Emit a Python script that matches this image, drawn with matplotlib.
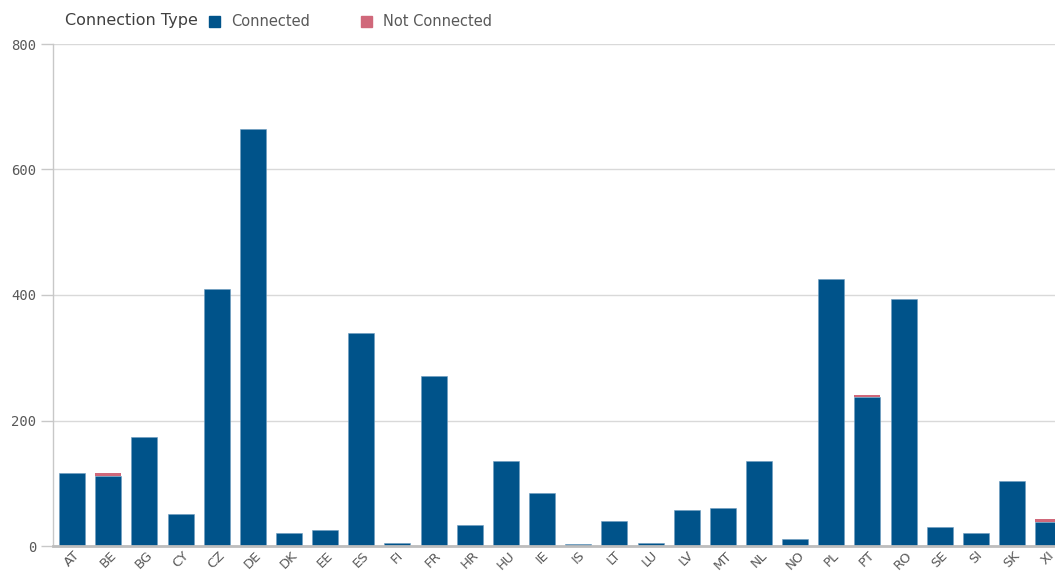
import matplotlib
matplotlib.use("Agg")
import matplotlib.pyplot as plt
import numpy as np

countries = ["AT", "BE", "BG", "CY", "CZ", "DE", "DK", "EE", "ES", "FI", "FR", "HR", "HU", "IE",
             "IS", "LT", "LU", "LV", "MT", "NL", "NO", "PL", "PT", "RO", "SE", "SI", "SK", "XI"]
connected = [117, 112, 174, 51, 409, 665, 20, 25, 339, 5, 271, 34, 136, 84,
             2.5, 40, 4, 57, 60, 136, 11, 426, 237, 393, 30, 21, 104, 39]
not_connected = [0, 5, 0, 0, 0, 0, 0, 0, 0, 0, 0, 0, 0, 0,
                 0, 0, 0, 0, 0, 0, 0, 0, 4, 0, 0, 0, 0, 4]
y_ticks = [0, 200, 400, 600, 800]

c_conn = "#00538A"
c_not = "#D0687A"
grey_txt = "#595959"

fig = plt.figure(figsize=(10.55, 5.72), dpi=100)
ax = fig.add_axes([53 / 1055, 26 / 572, 1 - 53 / 1055, (546 - 44) / 572])

x = np.arange(len(countries))
ax.bar(x, connected, width=0.72, color=c_conn, edgecolor="#6e9dbf", linewidth=0.4, zorder=3)
ax.bar(x, not_connected, width=0.72, bottom=connected, color=c_not, linewidth=0, zorder=3)

ax.set_xlim(-0.53, 27.19)
ax.set_ylim(0, 800)
ax.set_yticks(y_ticks)
ax.set_yticklabels([str(v) for v in y_ticks], family="DejaVu Sans Mono", fontsize=10, color=grey_txt)
ax.set_xticks(x)
ax.set_xticklabels(countries, rotation=45, ha="center", va="top",
                   fontsize=9.5, color=grey_txt)
ax.tick_params(axis="x", length=0, pad=2)
ax.tick_params(axis="y", length=9, color="#c8c8c8", width=1, pad=3)

ax.grid(axis="y", color="#d9d9d9", linewidth=1, zorder=0)
for s in ["top", "right"]:
    ax.spines[s].set_visible(False)
ax.spines["left"].set_color("#c8c8c8")
ax.spines["left"].set_linewidth(1)
ax.spines["bottom"].set_color("#bdbdbd")
ax.spines["bottom"].set_linewidth(2)
ax.spines["bottom"].set_zorder(4)

# Legend
fig.text(65 / 1055, 1 - 20 / 572, "Connection Type", fontsize=11.5, color="#404040",
         va="center", ha="left")
fig.patches.append(plt.Rectangle((209 / 1055, 1 - 27 / 572), 11 / 1055, 11 / 572,
                                 transform=fig.transFigure, color=c_conn, figure=fig))
fig.text(231 / 1055, 1 - 21 / 572, "Connected", fontsize=10.5, color=grey_txt, va="center", ha="left")
fig.patches.append(plt.Rectangle((361 / 1055, 1 - 27 / 572), 11 / 1055, 11 / 572,
                                 transform=fig.transFigure, color=c_not, figure=fig))
fig.text(383 / 1055, 1 - 21 / 572, "Not Connected", fontsize=10.5, color=grey_txt, va="center", ha="left")

fig.savefig("out.png", dpi=100)
